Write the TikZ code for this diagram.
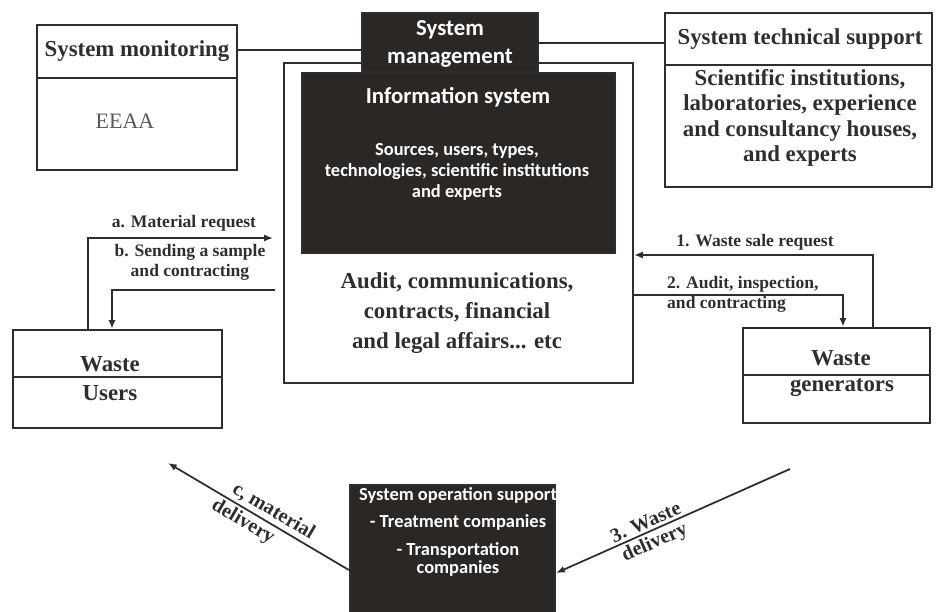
\documentclass[tikz,border=0pt]{standalone}
\usepackage{fontspec}
\setmainfont{Liberation Serif}
\newfontfamily\panelfont{Carlito}
\usetikzlibrary{arrows.meta}
\definecolor{ink}{HTML}{2E2E2E}
\definecolor{darkfill}{HTML}{2B2725}
\tikzset{panel/.style = {shape = rectangle, draw = ink, line width = 1.3pt, inner sep = 0pt}}
\tikzset{darkpanel/.style = {panel, fill = darkfill}}
\tikzset{head/.style = {align = center, text = ink, font = \bfseries\fontsize{13}{14.5}\selectfont}}
\tikzset{plain/.style = {align = center, text = ink!80, font = \fontsize{12.5}{14}\selectfont}}
\tikzset{light/.style = {align = center, text = white, font = \panelfont\bfseries\fontsize{10.5}{12}\selectfont}}
\tikzset{tag/.style = {text = ink, font = \bfseries\fontsize{10}{11.5}\selectfont}}
\tikzset{slopetag/.style = {text = ink, sloped, inner sep = 1.5pt, font = \bfseries\fontsize{11.5}{13}\selectfont}}
\tikzset{link/.style = {draw = ink, line width = 1.3pt}}
\tikzset{flow/.style = {draw = ink, line width = 1pt, -{Latex[length = 5pt, width = 4pt]}}}

\begin{document}
\begin{tikzpicture}[x = 0.02cm, y = -0.02cm]
	\useasboundingbox (0, 0) rectangle (937, 612);

	% boxes
	\node[panel, minimum width = 4cm, minimum height = 2.9cm] (mon) at (137, 97.5) {};
	\node[panel, minimum width = 5.34cm, minimum height = 3.48cm] (tech) at (798.5, 100) {};
	\node[panel, minimum width = 6.98cm, minimum height = 6.4cm] (outer) at (458.5, 223) {};
	\node[darkpanel, minimum width = 6.26cm, minimum height = 3.6cm] (info) at (458.5, 163) {};
	\node[darkpanel, minimum width = 3.52cm, minimum height = 1.18cm] (mgmt) at (450, 42.5) {};
	\node[panel, minimum width = 4.18cm, minimum height = 1.96cm] (users) at (117.5, 379) {};
	\node[panel, minimum width = 3.74cm, minimum height = 1.9cm] (gen) at (836.5, 375.5) {};
	\node[darkpanel, minimum width = 4.1cm, minimum height = 2.8cm] (ops) at (452.5, 555) {};

	\draw[link] (mon.west |- 0, 78) -- (mon.east |- 0, 78);
	\draw[link] (tech.west |- 0, 65) -- (tech.east |- 0, 65);
	\draw[link] (users.west |- 0, 377) -- (users.east |- 0, 377);
	\draw[link] (gen.west |- 0, 375) -- (gen.east |- 0, 375);

	% texts
	\node[head] (monhead) at (137, 51) {System monitoring};
	\node[plain] (monbody) at (125, 121) {EEAA};
	\node[head] (techhead) at (800, 39) {System technical support};
	\node[head] (techbody) at (800, 118) {Scientific institutions,\\laboratories, experience\\and consultancy houses,\\and experts};
	\node[light, font = \panelfont\bfseries\fontsize{13}{16}\selectfont] (mgmttext) at (450, 44) {System\\management};
	\node[light, font = \panelfont\bfseries\fontsize{13}{15}\selectfont] (infohead) at (458, 97) {Information system};
	\node[light] (infobody) at (457, 172) {Sources, users, types,\\technologies, scientific institutions\\and experts};
	\node[head, font = \bfseries\fontsize{13}{17}\selectfont] (audit) at (457, 313) {Audit, communications,\\contracts, financial\\and legal affairs... etc};
	\node[head] (usershead) at (110, 364) {Waste};
	\node[head] (usersbody) at (110, 393) {Users};
	\node[head] (genhead) at (841, 358) {Waste};
	\node[head] (genbody) at (842, 388) {generators};
	\node[light, font = \panelfont\bfseries\fontsize{10.5}{10.5}\selectfont] (opstext) at (458, 532) {System operation support\\[5pt]- Treatment companies\\[5pt]- Transportation\\companies};

	% connectors
	\coordinate (areq) at (273, 238);
	\coordinate (bsend) at (275, 290);
	\coordinate (cend) at (168, 463);
	\coordinate (wstart) at (790, 469);

	\draw[link] (mon.east |- 0, 50) -- (mgmt.west |- 0, 50);
	\draw[link] (mgmt.east |- 0, 43) -- (tech.west |- 0, 43);

	\draw[flow] (users.north -| 88, 0) |- (areq);
	\draw[flow] (bsend) -| (users.north -| 112, 0);
	\draw[flow] (gen.north -| 873, 0) |- (outer.east |- 0, 255);
	\draw[flow] (outer.east |- 0, 295) -| (gen.north -| 843, 0);
	\draw[flow] (ops.west |- 0, 570) -- (cend)
		node[slopetag, pos = 0.45, above] (ctagtop) {c, material}
		node[slopetag, pos = 0.55, below] (ctagbot) {delivery};
	\draw[flow] (wstart) -- (ops.east |- 0, 573)
		node[slopetag, pos = 0.6, above] (wtagtop) {3. Waste}
		node[slopetag, pos = 0.6, below] (wtagbot) {delivery};

	\node[tag] (atag) at (184, 223) {a. Material request};
	\node[tag, align = center] (btag) at (190, 262) {b. Sending a sample\\and contracting};
	\node[tag] (onetag) at (755, 242) {1. Waste sale request};
	\node[tag, align = left, anchor = west] (twotag) at (661, 294) {2. Audit, inspection,\\and contracting};
\end{tikzpicture}
\end{document}
